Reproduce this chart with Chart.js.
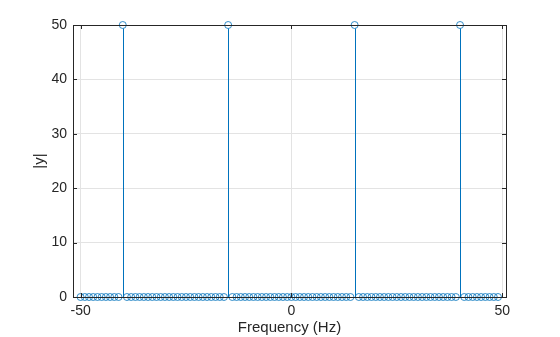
<!DOCTYPE html>
<html>
<head>
<meta charset="utf-8">
<script src="https://cdn.jsdelivr.net/npm/chart.js@4.4.1/dist/chart.umd.min.js"></script>
<style>
    html, body { margin: 0; padding: 0; background: #fff; }
    canvas { display: block; }
</style>
</head>
<body>
<canvas id="grafico" width="560" height="337"></canvas>
<script>
// frequencias (Hz) e modulo |y|
const frequencias = [
    -50, -49, -48, -47, -46, -45, -44, -43, -42, -41,
    -40, -39, -38, -37, -36, -35, -34, -33, -32, -31,
    -30, -29, -28, -27, -26, -25, -24, -23, -22, -21,
    -20, -19, -18, -17, -16, -15, -14, -13, -12, -11,
    -10, -9, -8, -7, -6, -5, -4, -3, -2, -1,
    0, 1, 2, 3, 4, 5, 6, 7, 8, 9,
    10, 11, 12, 13, 14, 15, 16, 17, 18, 19,
    20, 21, 22, 23, 24, 25, 26, 27, 28, 29,
    30, 31, 32, 33, 34, 35, 36, 37, 38, 39,
    40, 41, 42, 43, 44, 45, 46, 47, 48, 49
];
const modulo = [
    0, 0, 0, 0, 0, 0, 0, 0, 0, 0,
    50, 0, 0, 0, 0, 0, 0, 0, 0, 0,
    0, 0, 0, 0, 0, 0, 0, 0, 0, 0,
    0, 0, 0, 0, 0, 50, 0, 0, 0, 0,
    0, 0, 0, 0, 0, 0, 0, 0, 0, 0,
    0, 0, 0, 0, 0, 0, 0, 0, 0, 0,
    0, 0, 0, 0, 0, 50, 0, 0, 0, 0,
    0, 0, 0, 0, 0, 0, 0, 0, 0, 0,
    0, 0, 0, 0, 0, 0, 0, 0, 0, 0,
    50, 0, 0, 0, 0, 0, 0, 0, 0, 0
];
const ticksX = [-50, 0, 50];
const ticksY = [0, 10, 20, 30, 40, 50];

const azul = '#0072BD';
const corTexto = '#262626';
const fonte = 'Liberation Sans, Arial, sans-serif';

// hastes do stem + caixa e ticks para dentro
const stemPlugin = {
    id: 'stem',
    beforeDatasetsDraw(chart) {
        const ctx = chart.ctx;
        const x = chart.scales.x;
        const y = chart.scales.y;
        const base = y.getPixelForValue(0);
        ctx.save();
        ctx.strokeStyle = azul;
        ctx.lineWidth = 1;
        frequencias.forEach((f, i) => {
            if (!modulo[i]) return;
            const px = Math.round(x.getPixelForValue(f)) + 0.5;
            ctx.beginPath();
            ctx.moveTo(px, base);
            ctx.lineTo(px, y.getPixelForValue(modulo[i]) + 3.5);
            ctx.stroke();
        });
        ctx.restore();
    },
    afterDatasetsDraw(chart) {
        const ctx = chart.ctx;
        const a = chart.chartArea;
        const x = chart.scales.x;
        const y = chart.scales.y;
        ctx.save();
        ctx.strokeStyle = corTexto;
        ctx.lineWidth = 1;
        ctx.beginPath();
        ticksX.forEach(v => {
            const px = Math.round(x.getPixelForValue(v)) + 0.5;
            ctx.moveTo(px, a.bottom);
            ctx.lineTo(px, a.bottom - 4);
            ctx.moveTo(px, a.top);
            ctx.lineTo(px, a.top + 4);
        });
        ticksY.forEach(v => {
            const py = Math.round(y.getPixelForValue(v)) + 0.5;
            ctx.moveTo(a.left, py);
            ctx.lineTo(a.left + 4, py);
            ctx.moveTo(a.right, py);
            ctx.lineTo(a.right - 4, py);
        });
        ctx.stroke();
        ctx.strokeRect(Math.round(a.left) + 0.5, Math.round(a.top) + 0.5,
            Math.round(a.right - a.left), Math.round(a.bottom - a.top));
        ctx.restore();
    }
};

const ctx = document.getElementById('grafico').getContext('2d');
new Chart(ctx, {
    type: 'scatter',
    data: {
        datasets: [{
            data: frequencias.map((f, i) => ({ x: f, y: modulo[i] })),
            pointStyle: 'circle',
            pointRadius: 3.5,
            pointHoverRadius: 3.5,
            borderColor: azul,
            backgroundColor: 'rgba(0,0,0,0)',
            borderWidth: 0.8,
            clip: false
        }]
    },
    options: {
        responsive: false,
        animation: false,
        events: [],
        layout: { padding: { top: 25, right: 54, left: 0, bottom: 0 } },
        plugins: {
            legend: { display: false },
            tooltip: { enabled: false }
        },
        scales: {
            x: {
                type: 'linear',
                min: -51.8,
                max: 50.9,
                afterBuildTicks: s => { s.ticks = ticksX.map(v => ({ value: v })); },
                afterFit: s => { s.height = 40; },
                grid: { color: '#e3e3e3', drawTicks: false },
                border: { display: false },
                ticks: {
                    padding: 6,
                    color: corTexto,
                    font: { family: fonte, size: 14 },
                    maxRotation: 0
                },
                title: {
                    display: true,
                    text: 'Frequency (Hz)',
                    color: corTexto,
                    font: { family: fonte, size: 15 },
                    padding: { top: 0, bottom: 0 }
                }
            },
            y: {
                min: 0,
                max: 50,
                afterBuildTicks: s => { s.ticks = ticksY.map(v => ({ value: v })); },
                afterFit: s => { s.width = 73; },
                grid: { color: '#e3e3e3', drawTicks: false },
                border: { display: false },
                ticks: {
                    padding: 6,
                    color: corTexto,
                    font: { family: fonte, size: 14 }
                },
                title: {
                    display: true,
                    text: '|y|',
                    color: corTexto,
                    font: { family: fonte, size: 15 },
                    padding: { top: 31, bottom: 0 }
                }
            }
        }
    },
    plugins: [stemPlugin]
});
</script>
</body>
</html>
